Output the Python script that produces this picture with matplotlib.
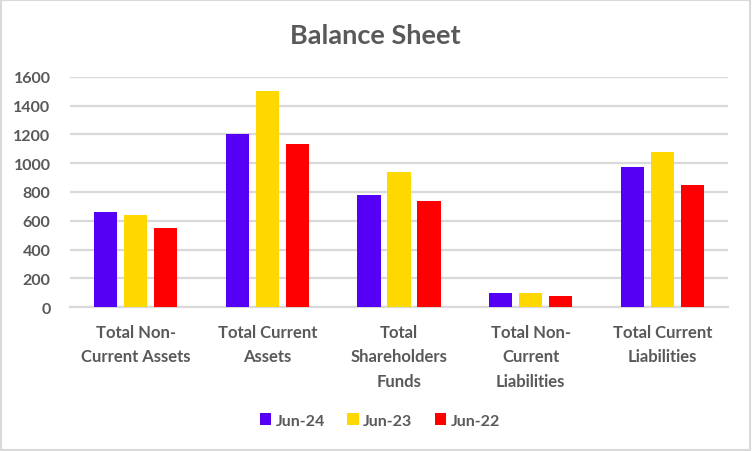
import numpy as np
import matplotlib.pyplot as plt
from matplotlib.patches import Rectangle

# data
categories = ["Total Non-\nCurrent Assets", "Total Current\nAssets",
              "Total\nShareholders\nFunds", "Total Non-\nCurrent\nLiabilities",
              "Total Current\nLiabilities"]
series_names = ["Jun-24", "Jun-23", "Jun-22"]
jun24 = [660, 1200, 780, 100, 975]
jun23 = [640, 1500, 940, 100, 1080]
jun22 = [550, 1130, 735, 80, 850]
colors = ["#5500F5", "#FFD800", "#FF0000"]

plt.rcParams['font.family'] = ['Lato', 'DejaVu Sans']
text_color = "#595959"
grid_color = "#D9D9D9"

fig = plt.figure(figsize=(7.52, 4.52), dpi=100)
ax = fig.add_axes([70 / 752, 1 - 308.3 / 452, 658 / 752, 230.6 / 452])

x = np.arange(len(categories))
width = 0.175
step = 0.228
for i, (vals, name) in enumerate(zip([jun24, jun23, jun22], series_names)):
    ax.bar(x + (i - 1) * step, vals, width, color=colors[i], label=name, zorder=3)

ax.set_xlim(-0.5, len(categories) - 0.5)
ax.set_ylim(0, 1600)
ax.set_yticks(range(0, 1601, 200))
ax.yaxis.grid(True, color=grid_color, linewidth=1.6, zorder=0)
for s in ["top", "right", "left"]:
    ax.spines[s].set_visible(False)
ax.spines["bottom"].set_color(grid_color)
ax.spines["bottom"].set_linewidth(1.6)
ax.tick_params(axis="both", length=0, labelsize=11.5, labelcolor=text_color)
ax.tick_params(axis="y", pad=14)
ax.tick_params(axis="x", pad=12, labelsize=12)
ax.set_xticks(x)
ax.set_xticklabels(categories, fontweight="bold", linespacing=1.65)
for lab in ax.get_yticklabels():
    lab.set_fontweight("bold")

fig.text(375 / 752, 1 - 36 / 452, "Balance Sheet", ha="center", va="center",
         fontsize=19.5, fontweight="bold", color=text_color)

leg = fig.legend(loc="center", bbox_to_anchor=(380 / 752, 1 - 421.5 / 452), ncol=3,
                 frameon=False, handlelength=0.7, handleheight=0.7, handletextpad=0.3,
                 columnspacing=1.4, prop={"weight": "bold", "size": 11.5})
for t in leg.get_texts():
    t.set_color(text_color)

fig.patches.append(Rectangle((0.001, 0.002), 0.997, 0.996, transform=fig.transFigure,
                             fill=False, edgecolor=grid_color, linewidth=1.5))

fig.savefig("out.png", dpi=100)
